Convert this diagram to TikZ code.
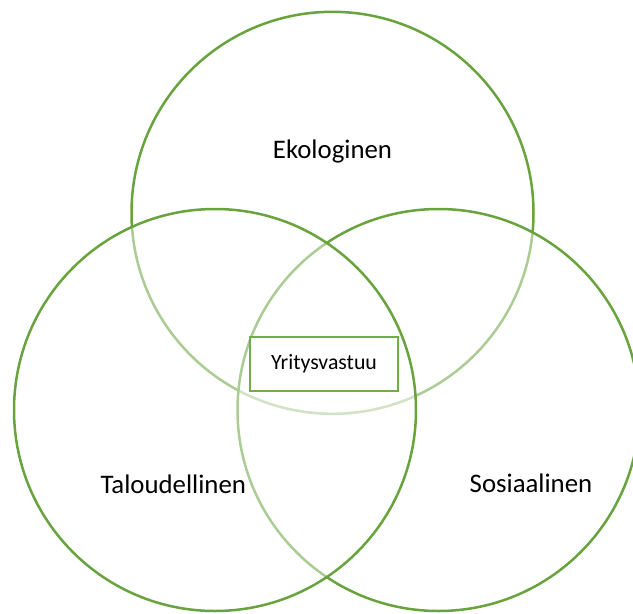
\documentclass[tikz,border=0pt]{standalone}
\usepackage{fontspec}
\setmainfont{Carlito}
\usepackage{tikz}
\definecolor{venngreen}{RGB}{104,163,62}
\definecolor{boxgreen}{RGB}{112,173,71}

\begin{document}
\begin{tikzpicture}[
    x=1pt, y=-1pt,
    venn/.style={
        circle,
        draw=venngreen,
        fill=white,
        fill opacity=0.45,
        draw opacity=1,
        line width=2.5pt,
        inner sep=0pt,
        minimum size=402pt
    },
    label/.style={
        anchor=base,
        inner sep=0pt,
        font=\fontsize{26.8}{32}\selectfont
    },
    box/.style={
        draw=boxgreen,
        fill=white,
        line width=2.3pt,
        align=center,
        minimum width=148pt,
        minimum height=54pt,
        font=\fontsize{21.8}{26}\selectfont
    }
]
\useasboundingbox (0,0) rectangle (633,614);

% Circles
\node (eko) [venn] at (332.5,212.8) {};
\node (sos) [venn] at (438.5,410) {};
\node (tal) [venn] at (215,410) {};

% Labels
\node (ekolbl) [label] at (332.5,158) {Ekologinen};
\node (tallbl) [label] at (173.3,493) {Taloudellinen};
\node (soslbl) [label] at (531,492) {Sosiaalinen};
\node (yv) [box] at (324,364) {Yritysvastuu};

\end{tikzpicture}
\end{document}
